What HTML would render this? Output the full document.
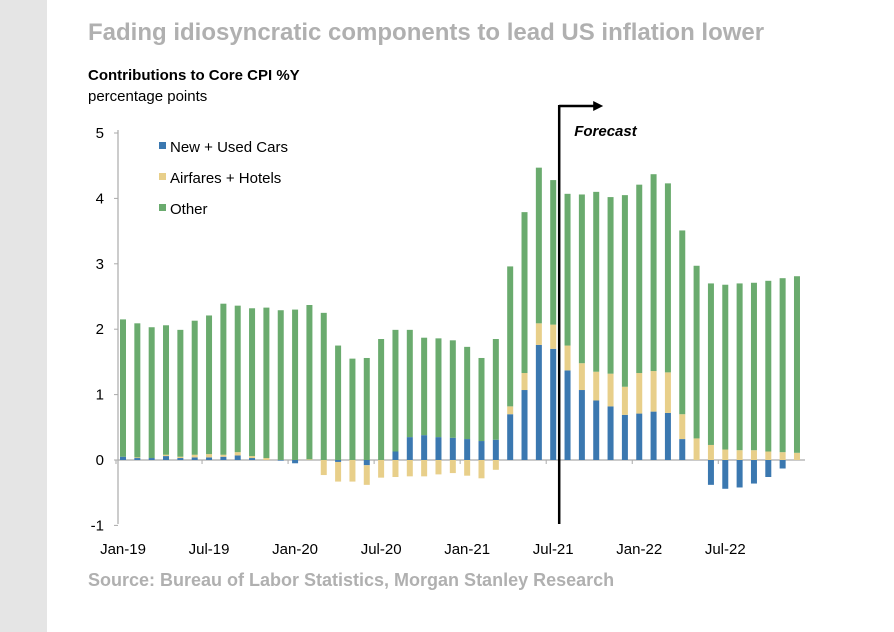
<!DOCTYPE html>
<html><head><meta charset="utf-8"><style>
body{margin:0;width:894px;height:632px;background:#fff;font-family:"Liberation Sans",Arial,sans-serif;overflow:hidden;position:relative}
.strip{position:absolute;left:0;top:0;width:47px;height:632px;background:#e5e5e5}
.t{position:absolute;white-space:nowrap}
</style></head><body>
<div class="strip"></div>
<div class="t" style="left:88px;top:19px;font-size:24px;font-weight:bold;color:#b0b0b0">Fading idiosyncratic components to lead US inflation lower</div>
<div class="t" style="left:88px;top:67px;font-size:15px;font-weight:bold;color:#000">Contributions to Core CPI %Y</div>
<div class="t" style="left:88px;top:88px;font-size:15px;color:#000">percentage points</div>
<div class="t" style="left:88px;top:570px;font-size:18px;font-weight:bold;color:#b0b0b0">Source: Bureau of Labor Statistics, Morgan Stanley Research</div>
<svg id="chart" width="894" height="632" style="position:absolute;left:0;top:0" font-family="Liberation Sans, Arial, sans-serif"></svg>
<script>
const months=["Jan-19","Feb-19","Mar-19","Apr-19","May-19","Jun-19","Jul-19","Aug-19","Sep-19","Oct-19","Nov-19","Dec-19","Jan-20","Feb-20","Mar-20","Apr-20","May-20","Jun-20","Jul-20","Aug-20","Sep-20","Oct-20","Nov-20","Dec-20","Jan-21","Feb-21","Mar-21","Apr-21","May-21","Jun-21","Jul-21","Aug-21","Sep-21","Oct-21","Nov-21","Dec-21","Jan-22","Feb-22","Mar-22","Apr-22","May-22","Jun-22","Jul-22","Aug-22","Sep-22","Oct-22","Nov-22","Dec-22"];
const cars=[.05,.03,.03,.06,.03,.04,.04,.05,.07,.03,0,-.01,-.05,0,0,-.03,0,-.08,0,.13,.35,.38,.35,.34,.32,.29,.31,.70,1.07,1.76,1.70,1.37,1.07,.91,.82,.69,.71,.74,.72,.32,0,-.38,-.44,-.42,-.36,-.26,-.13,0];
const air=[0,.01,0,.02,.02,.04,.05,.03,.05,.03,.03,0,0,.01,-.23,-.30,-.33,-.30,-.27,-.26,-.25,-.25,-.22,-.20,-.24,-.28,-.15,.12,.26,.33,.37,.38,.41,.44,.50,.43,.62,.62,.62,.38,.33,.23,.16,.15,.15,.13,.12,.11];
const total=[2.15,2.09,2.03,2.06,1.99,2.13,2.21,2.39,2.36,2.32,2.33,2.29,2.30,2.37,2.25,1.75,1.55,1.56,1.85,1.99,1.99,1.87,1.86,1.83,1.73,1.56,1.85,2.96,3.79,4.47,4.28,4.07,4.06,4.10,4.02,4.05,4.21,4.37,4.23,3.51,2.97,2.70,2.68,2.70,2.71,2.74,2.78,2.81];
const yTicks=[-1,0,1,2,3,4,5];
const xTickLabels=["Jan-19","Jul-19","Jan-20","Jul-20","Jan-21","Jul-21","Jan-22","Jul-22"];
const forecastStart="Jul-21";
const NS="http://www.w3.org/2000/svg",svg=document.getElementById('chart');
const y=v=>460-v*65.4, x=i=>123+i*14.34;
function mk(t,a,p){const e=document.createElementNS(NS,t);for(const k in a)e.setAttribute(k,a[k]);(p||svg).appendChild(e);return e;}
const C={cars:"#3b78b0",air:"#e8cf8a",other:"#6aab6e"};
mk('line',{x1:118,y1:130,x2:118,y2:524,stroke:'#aaa','stroke-width':1.2});
yTicks.forEach(v=>{const g=mk('g',{});
 mk('line',{x1:114,x2:118,y1:y(v),y2:y(v),stroke:'#aaa'},g);
 const t=mk('text',{x:104,y:y(v)+5,'font-size':15,'text-anchor':'end'},g);t.textContent=v;});
mk('line',{x1:118,x2:805,y1:460,y2:460,stroke:'#aaa','stroke-width':1.2});
months.forEach((m,i)=>{
 const g=mk('g',{});
 let pos=0,neg=0;const w=6,cx=x(i);
 const segs=[['cars',cars[i]],['air',air[i]]];
 const other=total[i]-Math.max(cars[i],0)-Math.max(air[i],0);
 segs.push(['other',other]);
 segs.forEach(([k,v])=>{if(!v)return;let a,b;if(v>0){a=pos;b=pos+v;pos=b;}else{a=neg;b=neg+v;neg=b;}
  const r=mk('rect',{x:cx-w/2,y:y(Math.max(a,b)),width:w,height:Math.abs(v)*65.4,fill:C[k]},g);
  });
});
xTickLabels.forEach(l=>{const i=months.indexOf(l);const cx=x(i);
 mk('line',{x1:cx-7,x2:cx-7,y1:460,y2:464,stroke:'#aaa'});
 const t=mk('text',{x:cx,y:554,'font-size':15,'text-anchor':'middle'});t.textContent=l;
 });
const fx=x(months.indexOf(forecastStart))+6;
const fg=mk('g',{});
mk('line',{x1:fx,x2:fx,y1:105,y2:524,stroke:'#000','stroke-width':2.5},fg);
mk('line',{x1:fx,x2:fx+36,y1:106,y2:106,stroke:'#000','stroke-width':2.5},fg);
mk('polygon',{points:`${fx+34},101 ${fx+44},106 ${fx+34},111`,fill:'#000'},fg);
const ft=mk('text',{x:fx+15,y:136,'font-size':15,'font-weight':'bold','font-style':'italic'},fg);ft.textContent='Forecast';
[['cars','New + Used Cars'],['air','Airfares + Hotels'],['other','Other']].forEach(([k,l],j)=>{
 const g=mk('g',{});
 mk('rect',{x:159,y:142+j*31,width:7,height:7,fill:C[k]},g);
 const t=mk('text',{x:170,y:152+j*31,'font-size':15},g);t.textContent=l;});
</script>
</body></html>
